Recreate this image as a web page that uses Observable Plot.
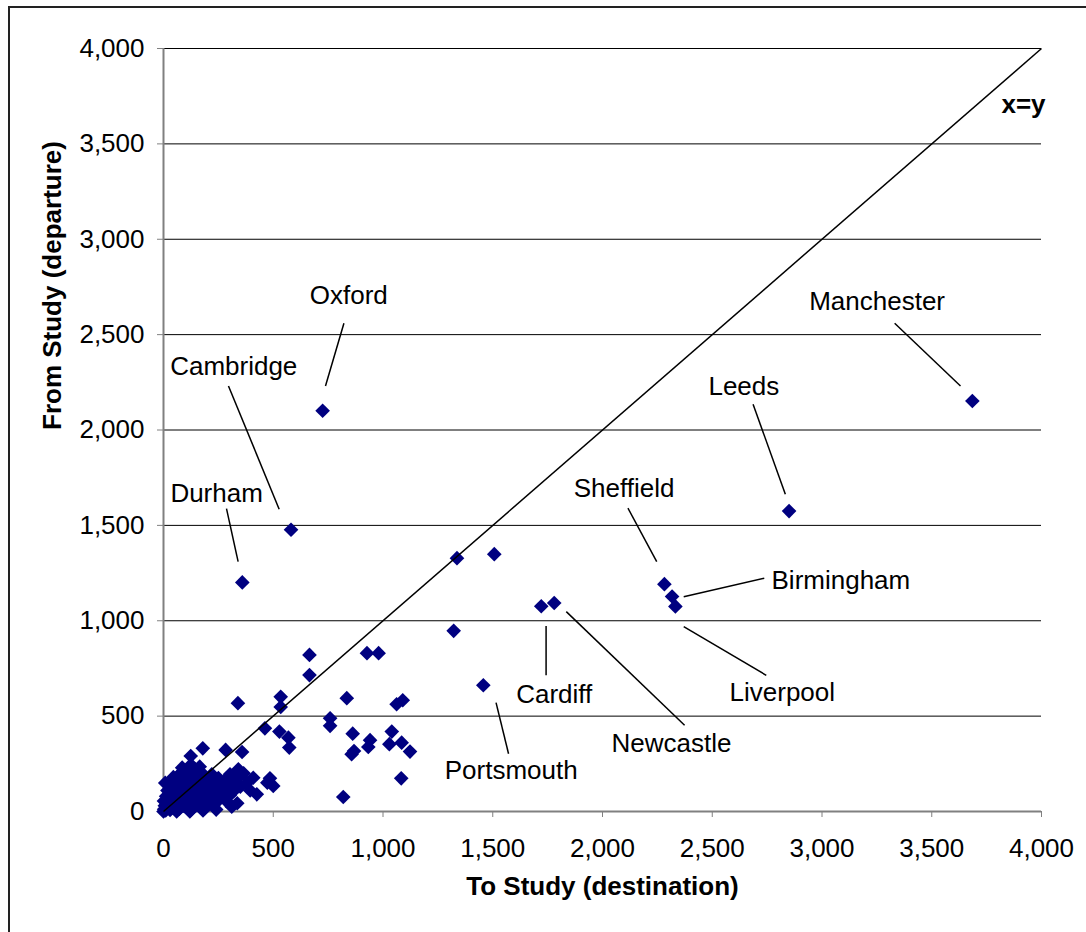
<!DOCTYPE html>
<html>
<head>
<meta charset="utf-8">
<script src="https://cdn.jsdelivr.net/npm/d3@7"></script>
<script src="https://cdn.jsdelivr.net/npm/@observablehq/plot@0.6"></script>
<style>
  html, body { margin: 0; padding: 0; background: #fff; }
  #wrap { position: relative; width: 1086px; height: 932px; overflow: hidden; }
  #frame { position: absolute; left: 8px; top: 6px; width: 1200px; height: 1200px; border-left: 2px solid #222; border-top: 2px solid #222; pointer-events: none; }
  #chart { position: absolute; left: 0; top: 0; }
</style>
</head>
<body>
<div id="wrap"><div id="chart"></div><div id="frame"></div></div>
<script>
// ---- Data: students moving "to study" (destination) vs "from study" (departure) ----
const toStudy = [
  // labelled cities
  3685, 2850, 725, 581, 359, 2282, 2317, 2332, 1721, 1780, 1457,
  // other mid-range places
  1337, 1507, 1322,
  665, 665, 927, 980, 339, 534, 534, 835, 1062, 1090, 759, 759, 462, 528, 569, 573,
  862, 941, 933, 1040, 1029, 1085, 1123, 868, 857, 1083, 819, 485, 500, 473, 425,
  409, 311, 336, 124, 179, 283, 358, 341, 303,
  // dense cluster near the origin
  0, 3, 6, 2, 10, 12, 15, 18, 20, 24, 27, 30, 33, 36, 40, 44, 48, 52, 55, 58,
  62, 65, 68, 72, 75, 78, 82, 86, 90, 94, 98, 102, 106, 110, 114, 118, 122, 126, 130, 134,
  138, 142, 146, 150, 155, 160, 165, 170, 175, 180, 185, 190, 195, 200, 205, 210, 215, 220, 226, 232,
  238, 244, 250, 256, 262, 270, 278, 286, 294, 302, 312, 322, 335, 350, 365, 380, 395, 8, 45, 85,
  125, 165, 60, 120, 180, 240, 100, 140, 28
];
const fromStudy = [
  2152, 1575, 2101, 1477, 1201, 1192, 1127, 1075, 1076, 1093, 662,
  1328, 1349, 947,
  821, 715, 830, 830, 568, 601, 548, 594, 562, 583, 489, 449, 436, 419, 387, 335,
  408, 374, 338, 419, 353, 361, 314, 317, 300, 174, 76, 174, 134, 151, 90,
  177, 25, 43, 291, 331, 323, 312, 221, 195,
  0, 12, 30, 55, 5, 80, 40, 110, 20, 65, 140, 8, 95, 45, 125, 20, 75, 150, 35, 105,
  180, 55, 135, 15, 90, 200, 60, 160, 30, 120, 215, 75, 175, 45, 140, 230, 95, 10, 190, 60,
  155, 110, 220, 35, 170, 80, 130, 205, 50, 150, 100, 185, 25, 125, 165, 70, 140, 195, 90, 40,
  150, 115, 175, 65, 130, 100, 160, 55, 120, 85, 150, 110, 170, 130, 200, 150, 110, 150, 180, 230,
  245, 235, 0, 0, 5, 10, 30, 25, 28
];

// ---- Annotations (data units) ----
const cityNames  = ["Oxford", "Cambridge", "Durham", "Manchester", "Leeds", "Sheffield", "Birmingham", "Liverpool", "Newcastle", "Cardiff", "Portsmouth"];
const cityLabelX = [844, 320, 242, 3251, 2644, 2098, 3086, 2819, 2314, 1780, 1584];
const cityLabelY = [2703, 2331, 1665, 2672, 2226, 1691, 1209, 621, 354, 611, 212];
const leaderX1 = [822, 296, 287, 3331, 2686, 2116, 2737, 2370, 1835, 1743, 1515];
const leaderY1 = [2560, 2231, 1588, 2560, 2135, 1590, 1223, 969, 1048, 973, 571];
const leaderX2 = [738, 527, 340, 3631, 2833, 2247, 2370, 2746, 2374, 1743, 1572];
const leaderY2 = [2231, 1585, 1310, 2231, 1663, 1310, 1126, 714, 452, 714, 303];

const diagonal = [0, 4000];
const tickValues = [0, 500, 1000, 1500, 2000, 2500, 3000, 3500, 4000];
const xTitle = "To Study (destination)";
const yTitle = "From Study (departure)";
const diagLabel = "x=y";
const diagLabelX = 3918, diagLabelY = 3705;

// ---- Build tables ----
const points = toStudy.map((x, i) => ({x, y: fromStudy[i]}));
const labels = cityNames.map((name, i) => ({name, x: cityLabelX[i], y: cityLabelY[i]}));
const leaders = cityNames.map((name, i) => ({x1: leaderX1[i], y1: leaderY1[i], x2: leaderX2[i], y2: leaderY2[i]}));
const fmt = d3.format(",");

const chart = Plot.plot({
  width: 1086,
  height: 932,
  marginLeft: 163,
  marginRight: 45,
  marginTop: 48,
  marginBottom: 121,
  style: {fontFamily: "'Liberation Sans', Arial, sans-serif", fontSize: "26px", background: "white", color: "black"},
  x: {domain: [0, 4000]},
  y: {domain: [0, 4000]},
  marks: [
    Plot.ruleY(tickValues.filter(d => d > 0), {stroke: "#000", strokeWidth: 1}),
    Plot.ruleX([0], {stroke: "#808080", strokeWidth: 2}),
    Plot.ruleY([0], {stroke: "#808080", strokeWidth: 2}),
    Plot.axisY({ticks: tickValues, tickFormat: fmt, tickSize: 6, tickPadding: 13, stroke: "#808080", fill: "black", fontSize: 26, label: null}),
    Plot.axisX({ticks: tickValues, tickFormat: fmt, tickSize: 6, tickPadding: 21, stroke: "#808080", fill: "black", fontSize: 26, label: null}),
    Plot.dot(points, {x: "x", y: "y", symbol: d3.symbolDiamond2, r: 6.6, fill: "#000080", stroke: "none"}),
    Plot.link([diagonal], {x1: d => d[0], y1: d => d[0], x2: d => d[1], y2: d => d[1], stroke: "black", strokeWidth: 1.5}),
    Plot.link(leaders, {x1: "x1", y1: "y1", x2: "x2", y2: "y2", stroke: "black", strokeWidth: 1.5}),
    Plot.text(labels, {x: "x", y: "y", text: "name", fontSize: 26, textAnchor: "middle", fill: "black"}),
    Plot.text([diagLabel], {x: diagLabelX, y: diagLabelY, text: d => d, fontSize: 26, fontWeight: "bold", textAnchor: "middle", fill: "black"}),
    Plot.text([xTitle], {frameAnchor: "bottom", dy: 83, text: d => d, fontSize: 26, fontWeight: "bold", fill: "black"}),
    Plot.text([yTitle], {frameAnchor: "left", dx: -111, rotate: -90, text: d => d, fontSize: 26, fontWeight: "bold", fill: "black"})
  ]
});
document.getElementById("chart").appendChild(chart);
</script>
</body>
</html>
